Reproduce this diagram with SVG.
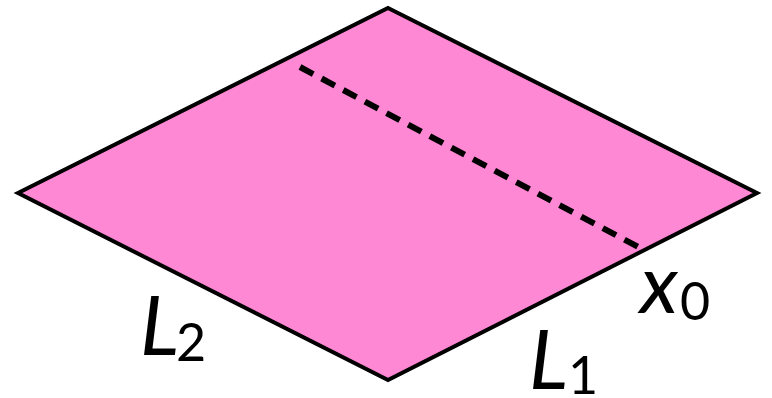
<svg xmlns="http://www.w3.org/2000/svg" width="772" height="398" viewBox="0 0 772 398">
<style>
.main{font-family:Lato,"Liberation Sans",sans-serif;font-size:82px;font-style:italic;fill:#000}
.sub{font-family:Lato,"Liberation Sans",sans-serif;font-size:52px;fill:#000}
</style>
<rect width="772" height="398" fill="#fff"/>
<g id="sheet">
<polygon points="388,8 757,193 388,380 18,193" fill="#ff88d5" stroke="#000" stroke-width="4" stroke-linejoin="miter"/>
</g>
<g id="connectors">
<line x1="300" y1="67" x2="642" y2="249" stroke="#000" stroke-width="6" stroke-dasharray="15,9.5"/>
</g>
<g id="label-L2"><text x="140" y="355" class="main">L</text><text x="176" y="361" class="sub">2</text></g>
<g id="label-L1"><text x="529" y="389" class="main">L</text><text x="568" y="394" class="sub">1</text></g>
<g id="label-x0"><text x="640" y="313" class="main">x</text><text x="680" y="320" class="sub">0</text></g>
</svg>
